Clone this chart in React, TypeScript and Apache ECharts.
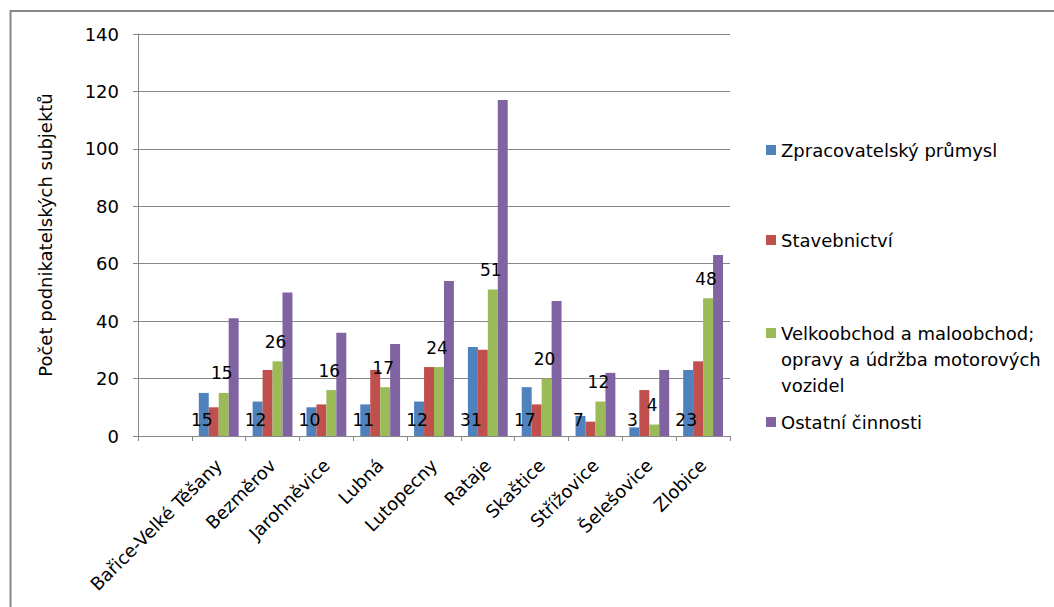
import React, { useEffect, useRef } from "react";
import * as echarts from "echarts";

const categories = [
  "",
  "Bařice-Velké Těšany",
  "Bezměrov",
  "Jarohněvice",
  "Lubná",
  "Lutopecny",
  "Rataje",
  "Skaštice",
  "Střížovice",
  "Šelešovice",
  "Zlobice",
];

const seriesNames = [
  "Zpracovatelský průmysl",
  "Stavebnictví",
  "Velkoobchod a maloobchod; opravy a údržba motorových vozidel",
  "Ostatní činnosti",
];

const zpracovatelsky = ["-", 15, 12, 10, 11, 12, 31, 17, 7, 3, 23];
const stavebnictvi = ["-", 10, 23, 11, 23, 24, 30, 11, 5, 16, 26];
const velkoobchod = ["-", 15, 26, 16, 17, 24, 51, 20, 12, 4, 48];
const ostatni = ["-", 41, 50, 36, 32, 54, 117, 47, 22, 23, 63];

const yTicks = [0, 20, 40, 60, 80, 100, 120, 140];

const colors = ["#4F81BD", "#C0504D", "#9BBB59", "#8064A2"];
const FONT = "DejaVu Sans";
const GRID_COLOR = "#868686";

export default function App() {
  const ref = useRef<HTMLDivElement>(null);
  useEffect(() => {
    if (!ref.current) return;
    const chart = echarts.init(ref.current, null, { renderer: "svg" });
    const legendBase = {
      orient: "vertical",
      left: 766,
      padding: 0,
      itemWidth: 10,
      itemHeight: 10,
      icon: "rect",
      selectedMode: false,
      textStyle: { fontFamily: FONT, fontSize: 18, color: "#000", lineHeight: 26 },
    };
    chart.setOption({
      animation: false,
      color: colors,
      textStyle: { fontFamily: FONT },
      grid: { left: 138, right: 324, top: 34, bottom: 171, containLabel: false },
      legend: [
        { ...legendBase, top: 137, data: [seriesNames[0]] },
        { ...legendBase, top: 227, data: [seriesNames[1]] },
        {
          ...legendBase,
          top: 320,
          data: [seriesNames[2]],
          formatter: () => "Velkoobchod a maloobchod;",
        },
        { ...legendBase, top: 409, data: [seriesNames[3]] },
      ],
      graphic: [
        {
          type: "text",
          left: 781,
          top: 346,
          style: {
            text: "opravy a údržba motorových\nvozidel",
            fontFamily: FONT,
            fontSize: 18,
            lineHeight: 26,
            fill: "#000",
          },
        },
        {
          type: "line",
          shape: { x1: 10, y1: 11, x2: 1054, y2: 11 },
          style: { stroke: GRID_COLOR, lineWidth: 2 },
        },
        {
          type: "line",
          shape: { x1: 10.5, y1: 10, x2: 10.5, y2: 607 },
          style: { stroke: GRID_COLOR, lineWidth: 2 },
        },
      ],
      xAxis: {
        type: "category",
        data: categories,
        axisLine: { lineStyle: { color: GRID_COLOR } },
        axisTick: { show: true, length: 5, lineStyle: { color: GRID_COLOR } },
        axisLabel: {
          interval: 0,
          rotate: 45,
          margin: 26,
          fontFamily: FONT,
          fontSize: 18,
          color: "#000",
        },
      },
      yAxis: {
        type: "value",
        min: yTicks[0],
        max: yTicks[yTicks.length - 1],
        interval: 20,
        name: "Počet podnikatelských subjektů",
        nameLocation: "middle",
        nameGap: 84,
        nameTextStyle: { fontFamily: FONT, fontSize: 18, color: "#000" },
        axisLine: { show: true, lineStyle: { color: GRID_COLOR } },
        axisTick: { show: true, length: 5, lineStyle: { color: GRID_COLOR } },
        axisLabel: { margin: 19, fontFamily: FONT, fontSize: 18, color: "#000" },
        splitLine: { lineStyle: { color: GRID_COLOR, width: 1 } },
      },
      series: [
        {
          name: seriesNames[0],
          type: "bar",
          data: zpracovatelsky,
          barGap: "0%",
          barCategoryGap: "26%",
          label: {
            show: true,
            position: "insideBottom",
            distance: 8,
            offset: [-2, 0],
            fontFamily: FONT,
            fontSize: 17,
            color: "#000",
          },
        },
        { name: seriesNames[1], type: "bar", data: stavebnictvi, barGap: "0%", barCategoryGap: "26%" },
        {
          name: seriesNames[2],
          type: "bar",
          data: velkoobchod,
          barGap: "0%",
          barCategoryGap: "26%",
          label: {
            show: true,
            position: "top",
            distance: 11,
            offset: [-2, 0],
            fontFamily: FONT,
            fontSize: 17,
            color: "#000",
          },
        },
        { name: seriesNames[3], type: "bar", data: ostatni, barGap: "0%", barCategoryGap: "26%" },
      ],
    });
    return () => chart.dispose();
  }, []);
  return (
    <div
      ref={ref}
      style={{ position: "fixed", left: 0, top: 0, width: 1054, height: 607, background: "#fff" }}
    />
  );
}
